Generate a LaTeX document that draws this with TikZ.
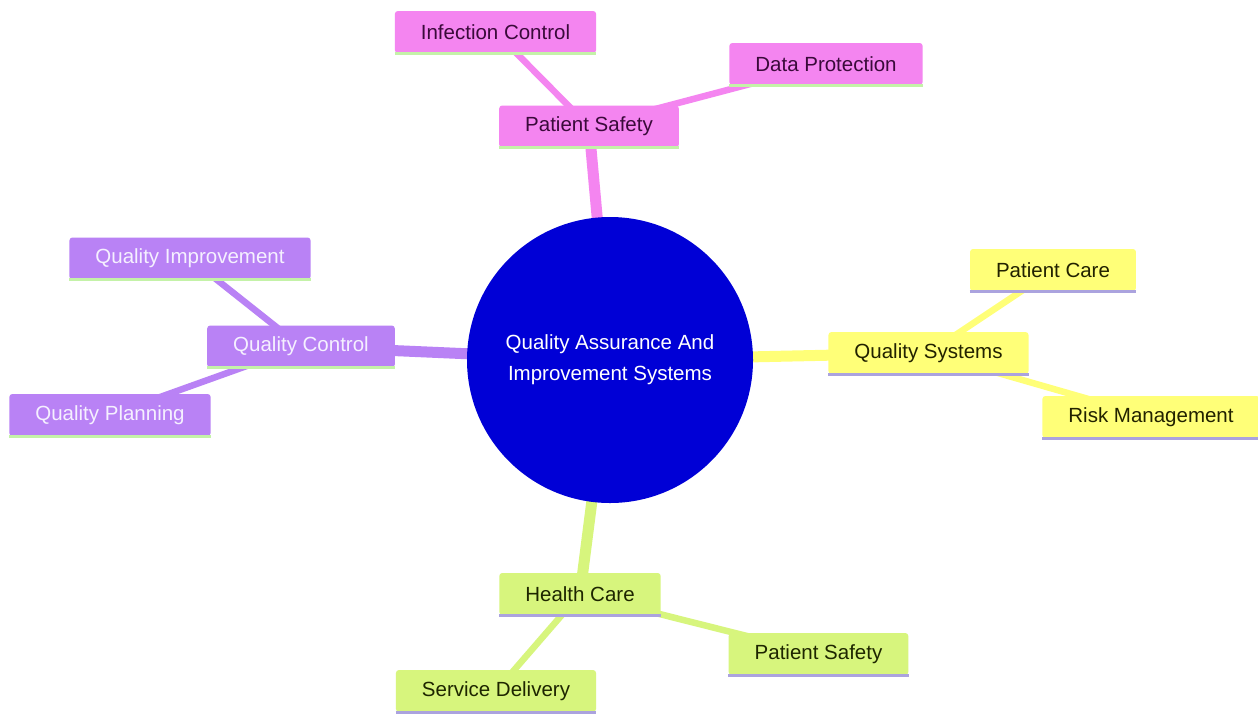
\documentclass[tikz,border=0pt]{standalone}
\usepackage{fontspec}
\setmainfont{Liberation Sans}
\usetikzlibrary{backgrounds}
\definecolor{pinkf}{HTML}{F485F0}
\definecolor{pinkt}{HTML}{3A0A3A}
\definecolor{purpf}{HTML}{B982F5}
\definecolor{purpt}{HTML}{F5F0FF}
\definecolor{yelf}{HTML}{FFFF78}
\definecolor{yelt}{HTML}{222200}
\definecolor{grnf}{HTML}{D7F57D}
\definecolor{grnt}{HTML}{1E2600}
\definecolor{ulgreen}{HTML}{C4F2A8}
\definecolor{ulviolet}{HTML}{ABA3DE}
\definecolor{rootf}{HTML}{0000D6}
\begin{document}
\begin{tikzpicture}[x=1pt,y=-1pt,
  box/.style={rounded corners=3pt, inner xsep=26pt, inner ysep=0pt,
    minimum height=42pt, font=\fontsize{20.5}{24}\selectfont},
  pinkbox/.style={box, fill=pinkf, text=pinkt},
  purpbox/.style={box, fill=purpf, text=purpt},
  yelbox/.style={box, fill=yelf, text=yelt},
  grnbox/.style={box, fill=grnf, text=grnt},
  rootnode/.style={circle, fill=rootf, text=white, minimum size=286pt,
    inner sep=0pt, align=center, font=\fontsize{20.5}{31}\selectfont},
  mainedge/.style={line width=11pt},
  leafedge/.style={line width=6.5pt},
  uline/.style={line width=3pt}]
\useasboundingbox (0,0) rectangle (1258,713);

\node[rootnode] (root) at (610,360) {Quality Assurance And\\Improvement Systems};

\node[pinkbox] (ps) at (589,126.5) {Patient Safety};
\node[pinkbox] (ic) at (495.5,32) {Infection Control};
\node[pinkbox] (dp) at (826,64) {Data Protection};

\node[purpbox] (qc) at (301,346.5) {Quality Control};
\node[purpbox] (qi) at (190,258.5) {Quality Improvement};
\node[purpbox] (qp) at (110,415) {Quality Planning};

\node[yelbox] (qs) at (928.5,353) {Quality Systems};
\node[yelbox] (pc) at (1053,270) {Patient Care};
\node[yelbox] (rm) at (1151,417) {Risk Management};

\node[grnbox] (hc) at (580,594) {Health Care};
\node[grnbox] (ps2) at (818.5,654) {Patient Safety};
\node[grnbox] (sd) at (496,691) {Service Delivery};

\foreach \n in {ps,ic,dp,qc,qi,qp}
  \draw[uline, ulgreen] (\n.south west) -- (\n.south east);
\foreach \n in {qs,pc,rm,hc,ps2,sd}
  \draw[uline, ulviolet] (\n.south west) -- (\n.south east);

\begin{pgfonlayer}{background}
\fill[white] (0,0) rectangle (1258,713);
\draw[mainedge, pinkf] (root.center) -- (ps.center);
\draw[leafedge, pinkf] (ps.center) -- (ic.center);
\draw[leafedge, pinkf] (ps.center) -- (dp.center);
\draw[mainedge, purpf] (root.center) -- (qc.center);
\draw[leafedge, purpf] (qc.center) -- (qi.center);
\draw[leafedge, purpf] (qc.center) -- (qp.center);
\draw[mainedge, yelf] (root.center) -- (qs.center);
\draw[leafedge, yelf] (qs.center) -- (pc.center);
\draw[leafedge, yelf] (qs.center) -- (rm.center);
\draw[mainedge, grnf] (root.center) -- (hc.center);
\draw[leafedge, grnf] (hc.center) -- (ps2.center);
\draw[leafedge, grnf] (hc.center) -- (sd.center);
\end{pgfonlayer}
\end{tikzpicture}
\end{document}
